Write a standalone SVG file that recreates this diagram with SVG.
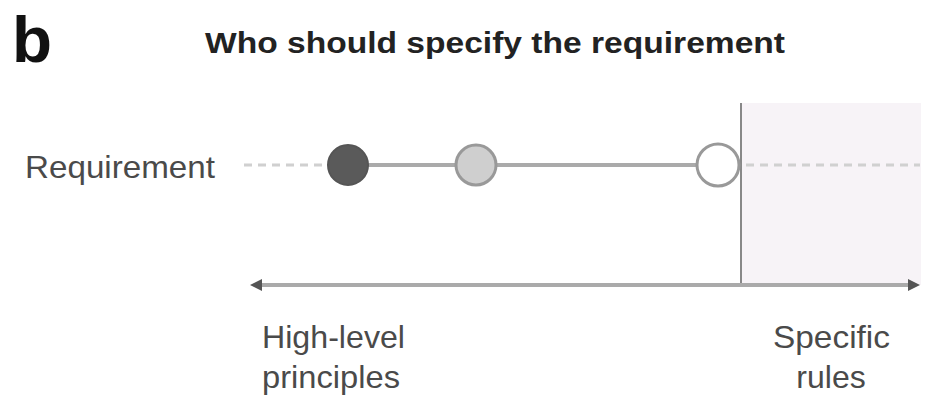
<svg xmlns="http://www.w3.org/2000/svg" width="935" height="404" viewBox="0 0 935 404">
<style>
.lbl{font-family:"Liberation Sans",Arial,sans-serif;fill:#4a4a4a;font-size:32px}
.dash{stroke:#d0d0d0;stroke-width:3;stroke-dasharray:8,6;fill:none}
</style>
<defs>
<marker id="ah" viewBox="0 0 10 10" refX="5" refY="5" markerWidth="3" markerHeight="3" orient="auto-start-reverse">
<path d="M0,0 L10,5 L0,10 z" fill="#555"/>
</marker>
</defs>
<rect width="935" height="404" fill="#fff"/>
<text x="12" y="62" font-family="Liberation Sans,Arial,sans-serif" font-weight="bold" font-size="64" fill="#111" textLength="40" lengthAdjust="spacingAndGlyphs">b</text>
<text x="205" y="53" font-family="Liberation Sans,Arial,sans-serif" font-weight="bold" font-size="29" fill="#222" textLength="580" lengthAdjust="spacingAndGlyphs">Who should specify the requirement</text>
<g id="region">
<rect x="741" y="103" width="180" height="182" fill="#f7f3f7"/>
</g>
<g id="connectors">
<line class="dash" x1="244" y1="165" x2="326" y2="165"/>
<line class="dash" x1="746" y1="165" x2="920" y2="165"/>
<line x1="368" y1="165" x2="697" y2="165" stroke="#aaa" stroke-width="4"/>
<line x1="741" y1="103" x2="741" y2="285" stroke="#888" stroke-width="2"/>
<line x1="256" y1="285" x2="914" y2="285" stroke="#aaa" stroke-width="4" marker-start="url(#ah)" marker-end="url(#ah)"/>
</g>
<g id="label-requirement">
<text class="lbl" x="25" y="178" textLength="190" lengthAdjust="spacingAndGlyphs">Requirement</text>
</g>
<g id="node-dark"><circle cx="348" cy="165" r="20" fill="#5a5a5a" stroke="#555" stroke-width="2"/></g>
<g id="node-gray"><circle cx="476" cy="165" r="20" fill="#cfcfcf" stroke="#999" stroke-width="3"/></g>
<g id="node-white"><circle cx="718" cy="165" r="21" fill="#fff" stroke="#999" stroke-width="3"/></g>
<g id="label-left">
<text class="lbl" x="262" y="348" textLength="143" lengthAdjust="spacingAndGlyphs">High-level</text>
<text class="lbl" x="262" y="388" textLength="138" lengthAdjust="spacingAndGlyphs">principles</text>
</g>
<g id="label-right">
<text class="lbl" x="773" y="348" textLength="117" lengthAdjust="spacingAndGlyphs">Specific</text>
<text class="lbl" x="831" y="388" text-anchor="middle">rules</text>
</g>
</svg>
